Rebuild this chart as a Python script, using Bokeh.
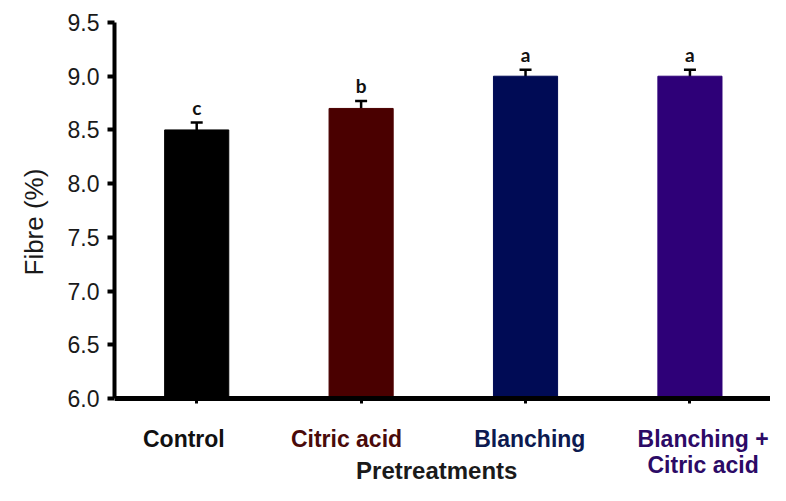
from bokeh.plotting import figure
from bokeh.models import Range1d, FixedTicker, Whisker, ColumnDataSource, TeeHead, NumeralTickFormatter, Title
from bokeh.core.properties import value
from bokeh.embed import file_html
from bokeh.resources import INLINE

categories = ["Control", "Citric acid", "Blanching", "Blanching +\nCitric acid"]
fibre = [8.5, 8.7, 9.0, 9.0]
errors = [0.07, 0.07, 0.06, 0.06]
letters = ["c", "b", "a", "a"]
bar_colors = ["#000000", "#4a0000", "#000b55", "#2e0078"]
text_colors = ["#111111", "#4a0a0a", "#0d1a50", "#2c0a66"]
y_ticks = [6.0, 6.5, 7.0, 7.5, 8.0, 8.5, 9.0, 9.5]
y_title = "Fibre (%)"
x_title = "Pretreatments"

# layout constants (label nudges in category units)
FONT = "Liberation Sans"
LABEL_NUDGE = [-0.078, -0.089, 0.026, 0.08]

xs = list(range(len(categories)))
src = ColumnDataSource(dict(
    x=xs, top=fibre, color=bar_colors,
    upper=[v + e for v, e in zip(fibre, errors)],
    lower=[v - e for v, e in zip(fibre, errors)],
    letter=letters,
))

p = figure(width=770, height=485, output_backend="svg", toolbar_location=None,
           x_range=Range1d(-0.5, 3.49), y_range=Range1d(5.19, 9.5),
           x_axis_location="above",
           min_border_left=114, min_border_right=0, min_border_top=22, min_border_bottom=0)
p.outline_line_color = None
p.grid.visible = False
p.background_fill_color = "white"

p.vbar(x="x", top="top", bottom=6.0, width=0.39, fill_color="color", line_color="color", source=src)
w = Whisker(base="x", upper="upper", lower="lower", source=src, line_color="black", line_width=2.5,
            upper_head=TeeHead(size=12, line_color="black", line_width=2.5), lower_head=None)
p.add_layout(w)

p.text(x="x", y="upper", text="letter", source=src, text_align="center", text_baseline="middle",
       y_offset=-15, text_font_size="19px", text_font=value("Lato"), text_font_style="bold",
       text_color="#111111")

# y axis
ya = p.yaxis[0]
ya.ticker = FixedTicker(ticks=y_ticks)
ya.bounds = (6.0, 9.5)
ya.formatter = NumeralTickFormatter(format="0.0")
ya.axis_line_width = 4
ya.axis_line_color = "black"
ya.major_tick_line_width = 4
ya.major_tick_out = 7
ya.major_tick_in = 0
ya.minor_tick_line_color = None
ya.major_label_text_font = FONT
ya.major_label_text_font_size = "23px"
ya.major_label_text_color = "#1a1a1a"
ya.major_label_standoff = 8

p.add_layout(Title(text=y_title, align="left", offset=210, text_font=FONT, text_font_size="26px",
                   text_font_style="normal", text_color="#1a1a1a", standoff=32), "left")

# x axis, fixed at the 6.0 baseline (ticks point downward)
xa = p.xaxis[0]
xa.fixed_location = 6.0
xa.ticker = FixedTicker(ticks=xs)
xa.axis_line_width = 5
xa.axis_line_color = "black"
xa.major_tick_line_width = 3
xa.major_tick_out = 0
xa.major_tick_in = 5
xa.major_label_standoff = 0
xa.minor_tick_line_color = None
xa.major_label_text_font_size = "0px"
xa.major_label_text_color = None

# category labels (drawn as text glyphs under the axis)
lab_x, lab_y, lab_t, lab_c = [], [], [], []
for i, (name, col) in enumerate(zip(categories, text_colors)):
    for j, line in enumerate(name.split("\n")):
        lab_x.append(i + LABEL_NUDGE[i])
        lab_y.append(5.627 - j * 0.242)
        lab_t.append(line)
        lab_c.append(col)
p.text(x=lab_x, y=lab_y, text=lab_t, text_color=lab_c, text_align="center", text_baseline="middle",
       text_font=value(FONT), text_font_size="23px", text_font_style="bold")

p.text(x=[1.46], y=[5.33], text=[x_title], text_align="center", text_baseline="middle",
       text_font=value(FONT), text_font_size="24px", text_font_style="bold", text_color="#1a1a1a")

open("out.html", "w").write(file_html(p, INLINE))
